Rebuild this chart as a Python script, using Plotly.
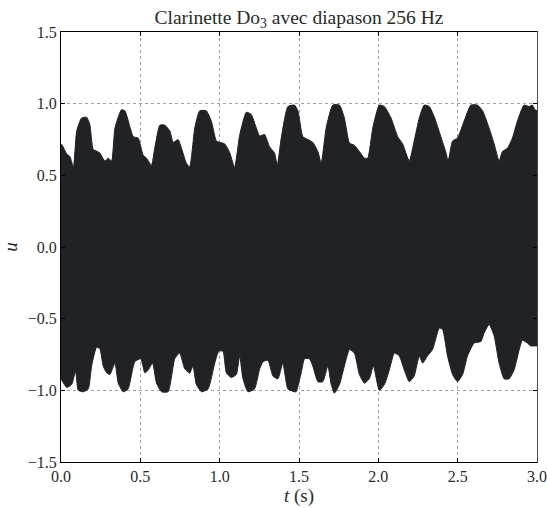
import plotly.graph_objects as go

# Upper envelope of the signal (t in s, amplitude u)
t_top = [0.0, 0.008, 0.036, 0.057, 0.078, 0.099, 0.130, 0.162, 0.182, 0.203, 0.224, 0.245, 0.277, 0.298, 0.319,
         0.340, 0.381, 0.403, 0.434, 0.455, 0.486, 0.518, 0.539, 0.570, 0.591, 0.623, 0.654, 0.686, 0.707, 0.738,
         0.759, 0.790, 0.811, 0.843, 0.874, 0.916, 0.948, 0.979, 1.000, 1.031, 1.063, 1.094, 1.126, 1.168, 1.199,
         1.231, 1.252, 1.283, 1.314, 1.346, 1.363, 1.388, 1.430, 1.472,
         1.493, 1.524, 1.556, 1.587, 1.619, 1.640, 1.671, 1.713, 1.755, 1.786, 1.818, 1.849, 1.881, 1.912, 1.933,
         1.965, 2.006, 2.038, 2.080, 2.122, 2.153, 2.195, 2.226, 2.258, 2.289, 2.321, 2.352, 2.394, 2.426, 2.440,
         2.468, 2.499, 2.541, 2.583, 2.625, 2.657, 2.698, 2.730, 2.761, 2.782, 2.814, 2.845, 2.877, 2.918, 2.950,
         2.971, 2.986, 3.0]
u_top = [0.72, 0.71, 0.65, 0.63, 0.555, 0.81, 0.90, 0.905, 0.853, 0.68, 0.67, 0.655, 0.60, 0.62, 0.60,
         0.83, 0.958, 0.95, 0.84, 0.77, 0.76, 0.64, 0.62, 0.57, 0.69, 0.85, 0.85, 0.81, 0.73, 0.75,
         0.69, 0.585, 0.56, 0.83, 0.95, 0.95, 0.876, 0.74, 0.73, 0.72, 0.66, 0.555, 0.78, 0.94, 0.925,
         0.83, 0.775, 0.785, 0.70, 0.655, 0.57, 0.76, 0.98, 0.99,
         0.95, 0.77, 0.75, 0.73, 0.666, 0.585, 0.83, 0.99, 0.99, 0.90, 0.725, 0.71, 0.666, 0.62, 0.62,
         0.83, 0.99, 0.98, 0.90, 0.77, 0.72, 0.60, 0.74, 0.90, 0.99, 0.98, 0.91, 0.77, 0.66, 0.60,
         0.74, 0.76, 0.88, 0.99, 0.99, 0.95, 0.83, 0.72, 0.60, 0.666, 0.69, 0.76, 0.88, 0.99, 0.98,
         0.99, 0.96, 0.95]

# Lower envelope of the signal
t_bot = [0.0, 0.008, 0.036, 0.067, 0.092, 0.109, 0.140, 0.172, 0.193, 0.224, 0.245, 0.266, 0.287, 0.308, 0.340,
         0.361, 0.392, 0.423, 0.465, 0.503, 0.528, 0.549, 0.577, 0.602, 0.633, 0.675, 0.717, 0.748, 0.780, 0.811,
         0.832, 0.853, 0.885, 0.927, 0.969, 0.994, 1.021, 1.042, 1.073, 1.105, 1.126, 1.147, 1.178, 1.220, 1.252,
         1.273, 1.304, 1.336, 1.367, 1.398, 1.430, 1.472, 1.482,
         1.514, 1.535, 1.566, 1.587, 1.619, 1.650, 1.682, 1.703, 1.723, 1.755, 1.786, 1.818, 1.849, 1.881, 1.912,
         1.943, 1.969, 2.006, 2.038, 2.069, 2.101, 2.132, 2.164, 2.195, 2.226, 2.258, 2.279, 2.310, 2.342, 2.384,
         2.405, 2.436, 2.468, 2.499, 2.531, 2.562, 2.604, 2.646, 2.667, 2.698, 2.730, 2.761, 2.793, 2.824, 2.855,
         2.887, 2.908, 2.939, 2.960, 2.986, 3.0]
u_bot = [-0.92, -0.935, -0.98, -0.96, -0.866, -1.0, -1.01, -0.99, -0.83, -0.70, -0.71, -0.83, -0.877, -0.89, -0.81,
         -0.95, -1.01, -0.99, -0.80, -0.78, -0.877, -0.86, -0.81, -0.95, -1.01, -1.01, -0.78, -0.74, -0.85, -0.88,
         -0.83, -0.96, -1.01, -0.99, -0.81, -0.727, -0.727, -0.877, -0.91, -0.89, -0.76, -0.92, -1.01, -0.99, -0.85,
         -0.80, -0.79, -0.90, -0.92, -0.81, -0.99, -1.01, -1.01,
         -0.877, -0.78, -0.78, -0.83, -0.94, -0.94, -0.83, -0.96, -1.02, -0.96, -0.83, -0.715, -0.74, -0.89, -0.95,
         -0.92, -0.83, -1.0, -0.96, -0.86, -0.74, -0.76, -0.86, -0.94, -0.90, -0.76, -0.81, -0.76, -0.715, -0.565,
         -0.575, -0.76, -0.89, -0.94, -0.89, -0.76, -0.67, -0.66, -0.60, -0.54, -0.62, -0.81, -0.92, -0.92, -0.86,
         -0.72, -0.65, -0.67, -0.69, -0.69, -0.69]

x_ticks = [0.0, 0.5, 1.0, 1.5, 2.0, 2.5, 3.0]
x_ticklabels = ["0.0", "0.5", "1.0", "1.5", "2.0", "2.5", "3.0"]
y_ticks = [-1.5, -1.0, -0.5, 0.0, 0.5, 1.0, 1.5]
y_ticklabels = ["\u22121.5", "\u22121.0", "\u22120.5", "0.0", "0.5", "1.0", "1.5"]

FONT = "Liberation Serif, DejaVu Serif, serif"
TXT = "#2a2a2a"
FILL = "#212226"

fig = go.Figure()
for tt, uu in ((t_top, u_top), (t_bot, u_bot)):
    fig.add_trace(go.Scatter(
        x=tt, y=uu,
        mode="lines",
        fill="tozeroy",
        fillcolor=FILL,
        line=dict(color=FILL, width=1, shape="spline", smoothing=0.5),
        hoverinfo="skip",
        showlegend=False,
    ))

axis_common = dict(
    showline=True, mirror="ticks", linecolor="black", linewidth=1,
    ticks="inside", ticklen=4, tickcolor="black",
    showgrid=True, gridcolor="#a0a0a0", griddash="dot", gridwidth=1,
    zeroline=False, automargin=False,
    tickfont=dict(family=FONT, size=16, color=TXT),
)

fig.update_layout(
    width=547, height=508,
    margin=dict(l=61, r=10, t=32, b=46),
    paper_bgcolor="white", plot_bgcolor="white",
    title=dict(text="Clarinette Do<sub>3</sub> avec diapason 256 Hz",
               xref="paper", x=0.5, xanchor="center",
               yref="container", y=1 - 17.5 / 508, yanchor="middle",
               font=dict(family=FONT, size=19.5, color=TXT)),
    xaxis=dict(range=[0, 3], tickvals=x_ticks, ticktext=x_ticklabels,
               title=dict(text="<i>t</i> (s)", font=dict(family=FONT, size=19, color=TXT), standoff=4),
               **axis_common),
    yaxis=dict(range=[-1.5, 1.5], tickvals=y_ticks, ticktext=y_ticklabels,
               title=dict(text="<i>u</i>", font=dict(family=FONT, size=19, color=TXT), standoff=6),
               **axis_common),
    # white mask over the right margin, so nothing of the fill shows past the right axis line
    shapes=[dict(type="rect", xref="paper", yref="paper", x0=1.0015, x1=1.05, y0=-0.002, y1=1.002,
                 fillcolor="white", line=dict(width=0), layer="above")],
)

# Remove the browser's default 8 px body margin so the figure fills the window exactly.
fig.write_html(
    "out.html",
    config={"displayModeBar": False},
    post_script="document.body.style.margin='0';document.body.style.overflow='hidden';",
)
